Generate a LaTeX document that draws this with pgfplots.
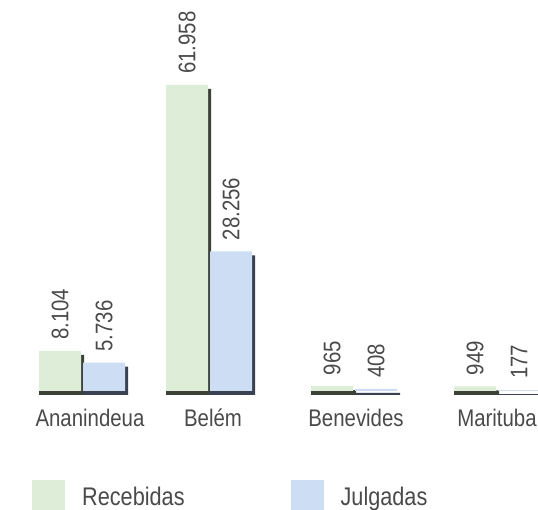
\documentclass[border=0pt]{standalone}
\usepackage{fontspec}
\setmainfont[FakeStretch=0.85]{Liberation Sans}
\usepackage{pgfplots}
\pgfplotsset{compat=1.18}
\definecolor{recg}{HTML}{DDEDD8}
\definecolor{julb}{HTML}{CDDEF4}
\definecolor{shadg}{HTML}{3C4238}
\definecolor{shadb}{HTML}{3A4152}
\definecolor{txt}{HTML}{4A4A4A}
\begin{document}
\begin{tikzpicture}
\useasboundingbox (0,0) rectangle (538pt,510pt);
\begin{axis}[
  at={(0pt,119pt)}, anchor=south west,
  scale only axis, width=538pt, height=370.5pt,
  xmin=0, xmax=538, ymin=0, ymax=75000,
  clip=false,
  axis line style={draw=none},
  ytick=\empty,
  xtick={90,213,356,497},
  xticklabels={Ananindeua,Belém,Benevides,Marituba},
  major tick length=0pt,
  xticklabel style={font=\fontsize{24}{28}\selectfont, text=txt, anchor=north, inner sep=0pt, yshift=-18pt},
  ybar, bar width=42pt,
  every node near coord/.append style={rotate=90, anchor=west, inner xsep=11pt, inner ysep=0pt, font=\fontsize{24}{28}\selectfont, text=txt},
  legend columns=2,
  legend style={draw=none, fill=none, at={(axis description cs:0.05948,-0.24022)}, anchor=north west, inner sep=0pt, font=\fontsize{25.5}{30}\selectfont, text=txt, nodes={inner sep=0pt},
    /tikz/every odd column/.append style={column sep=17pt},
    /tikz/every even column/.append style={column sep=106pt}},
]
% shadows
\addplot[forget plot, fill=shadg, draw=none, bar width=45pt, bar shift=-20.5pt, yshift=-4pt]
  coordinates {(82,8104) (209,61958) (354,965) (497,949)};
\addplot[forget plot, fill=shadb, draw=none, bar width=45pt, bar shift=23.5pt, yshift=-4pt]
  coordinates {(82,5736) (209,28256) (354,408) (497,177)};
% bars
\addplot[fill=recg, draw=none, bar shift=-22pt,
  point meta=explicit symbolic, nodes near coords,
  legend image code/.code={\fill[recg] (0pt,-14pt) rectangle (33pt,17pt);}]
  coordinates {(82,8104) [8.104] (209,61958) [61.958] (354,965) [965] (497,949) [949]};
\addplot[fill=julb, draw=none, bar shift=22pt,
  point meta=explicit symbolic, nodes near coords,
  legend image code/.code={\fill[julb] (0pt,-14pt) rectangle (33pt,17pt);}]
  coordinates {(82,5736) [5.736] (209,28256) [28.256] (354,408) [408] (497,177) [177]};
\legend{Recebidas, Julgadas}
\end{axis}
\end{tikzpicture}
\end{document}
